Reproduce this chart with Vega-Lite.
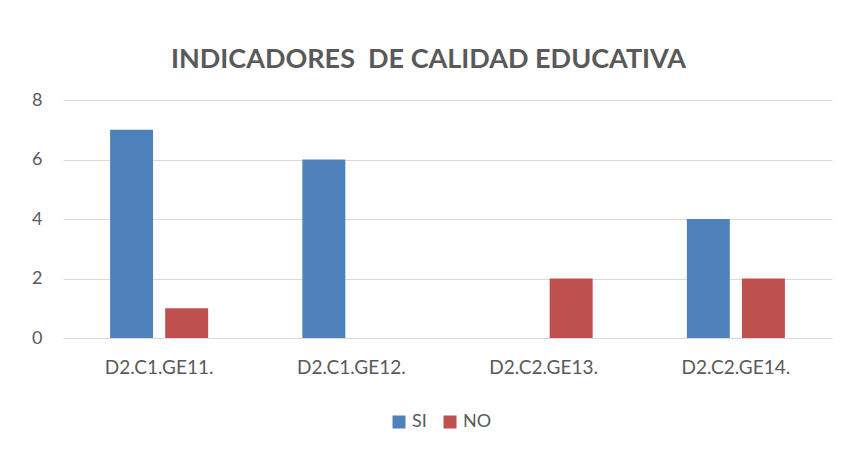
{
  "$schema": "https://vega.github.io/schema/vega-lite/v6.json",
  "width": 769,
  "height": 238,
  "autosize": {"type": "none"},
  "padding": {"left": 63, "top": 100, "right": 15, "bottom": 116},
  "background": "white",
  "title": {
    "text": "INDICADORES\u00a0 DE CALIDAD EDUCATIVA",
    "font": "Lato",
    "fontSize": 27,
    "fontWeight": "bold",
    "color": "#595959",
    "anchor": "middle",
    "dx": -19,
    "offset": 17
  },
  "data": {
    "values": [
      {"indicador": "D2.C1.GE11.", "serie": "SI", "valor": 7},
      {"indicador": "D2.C1.GE11.", "serie": "NO", "valor": 1},
      {"indicador": "D2.C1.GE12.", "serie": "SI", "valor": 6},
      {"indicador": "D2.C1.GE12.", "serie": "NO", "valor": 0},
      {"indicador": "D2.C2.GE13.", "serie": "SI", "valor": 0},
      {"indicador": "D2.C2.GE13.", "serie": "NO", "valor": 2},
      {"indicador": "D2.C2.GE14.", "serie": "SI", "valor": 4},
      {"indicador": "D2.C2.GE14.", "serie": "NO", "valor": 2}
    ]
  },
  "mark": {"type": "bar"},
  "encoding": {
    "x": {
      "field": "indicador",
      "type": "nominal",
      "sort": null,
      "scale": {"paddingInner": 0.49, "paddingOuter": 0.245},
      "axis": {
        "title": null,
        "labelAngle": 0,
        "labelFont": "Lato",
        "labelFontSize": 19,
        "labelColor": "#595959",
        "labelPadding": 20,
        "ticks": false,
        "domainColor": "#d9d9d9",
        "grid": false
      }
    },
    "xOffset": {
      "field": "serie",
      "type": "nominal",
      "sort": ["SI", "NO"],
      "scale": {"paddingInner": 0.22, "paddingOuter": 0}
    },
    "y": {
      "field": "valor",
      "type": "quantitative",
      "scale": {"domain": [0, 8]},
      "axis": {
        "title": null,
        "values": [0, 2, 4, 6, 8],
        "labelFont": "Lato",
        "labelFontSize": 18,
        "labelColor": "#595959",
        "labelPadding": 21,
        "ticks": false,
        "domain": false,
        "gridColor": "#d9d9d9",
        "gridWidth": 1
      }
    },
    "color": {
      "field": "serie",
      "type": "nominal",
      "sort": ["SI", "NO"],
      "scale": {"domain": ["SI", "NO"], "range": ["#4f81bd", "#c0504d"]},
      "legend": {
        "title": null,
        "orient": "none",
        "legendX": 327,
        "legendY": 313,
        "direction": "horizontal",
        "symbolType": "square",
        "symbolSize": 169,
        "symbolStrokeWidth": 0,
        "labelFont": "Lato",
        "labelFontSize": 18,
        "labelColor": "#595959",
        "labelOffset": 4,
        "columnPadding": 14
      }
    }
  },
  "config": {
    "view": {"stroke": null}
  }
}
